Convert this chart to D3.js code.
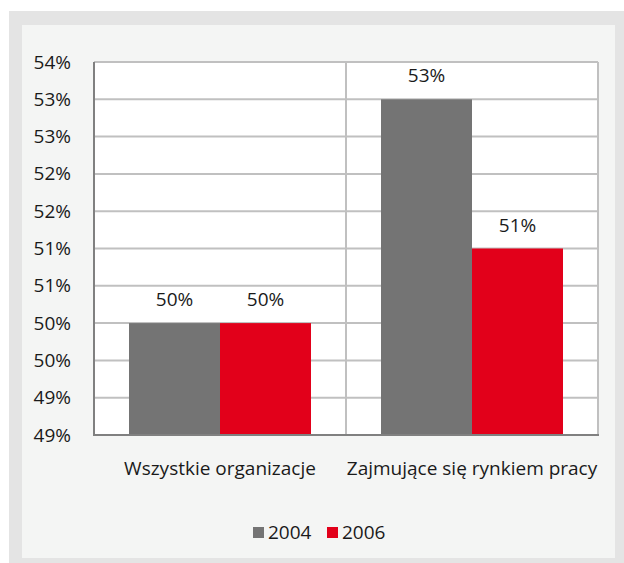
<!DOCTYPE html>
<html>
<head>
<meta charset="utf-8">
<script src="https://cdn.jsdelivr.net/npm/d3@7"></script>
<style>
  html, body { margin: 0; padding: 0; background: #ffffff; overflow: hidden; }
  svg { display: block; }
  text { font-family: "Open Sans", "Noto Sans", sans-serif; fill: #1a1a1a; }
</style>
</head>
<body>
<div id="chart"></div>
<script>
// data
const categories = ['Wszystkie organizacje', 'Zajmujące się rynkiem pracy'];
const seriesNames = ['2004', '2006'];
const values2004 = [50.1, 53.1];
const values2006 = [50.1, 51.1];
const valueLabels2004 = ['50%', '53%'];
const valueLabels2006 = ['50%', '51%'];
const tickValues = [48.6, 49.1, 49.6, 50.1, 50.6, 51.1, 51.6, 52.1, 52.6, 53.1, 53.6];
const tickLabels = ['49%', '49%', '50%', '50%', '51%', '51%', '52%', '52%', '53%', '53%', '54%'];

const colors = ['#747474', '#e2001a'];
const fontSize = '19px';

const w = 624, h = 563;
const svg = d3.select('#chart').append('svg').attr('width', w).attr('height', h);

// frame
svg.append('rect').attr('x', 9).attr('y', 11).attr('width', w - 9).attr('height', h - 11).attr('fill', '#e4e4e4');
svg.append('rect').attr('x', 22).attr('y', 25).attr('width', 593).attr('height', 533).attr('fill', '#f4f5f4');

const margin = { top: 62, left: 94, right: 26, bottom: 128 };
const innerWidth = w - margin.left - margin.right;
const innerHeight = h - margin.top - margin.bottom;

const g = svg.append('g').attr('transform', `translate(${margin.left},${margin.top})`);

g.append('rect').attr('width', innerWidth).attr('height', innerHeight).attr('fill', '#ffffff');

const yScale = d3.scaleLinear().domain([48.6, 53.6]).range([innerHeight, 0]);
const xScale = d3.scaleBand().domain(categories).range([0, innerWidth]);
const xInner = d3.scaleBand().domain(seriesNames).range([35, xScale.bandwidth() - 35]);

// horizontal gridlines
g.selectAll('.hgrid')
  .data(tickValues)
  .enter().append('line')
  .attr('x1', 0).attr('x2', innerWidth)
  .attr('y1', d => yScale(d)).attr('y2', d => yScale(d))
  .attr('stroke', '#c0c0c0').attr('stroke-width', 2);

// vertical gridlines at category boundaries
g.selectAll('.vgrid')
  .data(categories)
  .enter().append('line')
  .attr('x1', d => xScale(d) + xScale.bandwidth()).attr('x2', d => xScale(d) + xScale.bandwidth())
  .attr('y1', 0).attr('y2', innerHeight)
  .attr('stroke', '#c0c0c0').attr('stroke-width', 2);

// bars
const series = [values2004, values2006];
const seriesLabels = [valueLabels2004, valueLabels2006];
seriesNames.forEach((name, si) => {
  const rows = categories.map((c, i) => ({ cat: c, value: series[si][i], label: seriesLabels[si][i] }));
  g.selectAll('.bar' + si)
    .data(rows)
    .enter().append('rect')
    .attr('x', d => xScale(d.cat) + xInner(name))
    .attr('y', d => yScale(d.value))
    .attr('width', xInner.bandwidth())
    .attr('height', d => innerHeight - yScale(d.value))
    .attr('fill', colors[si]);

  g.selectAll('.lbl' + si)
    .data(rows)
    .enter().append('text')
    .attr('x', d => xScale(d.cat) + xInner(name) + xInner.bandwidth() / 2)
    .attr('y', d => yScale(d.value) - 17)
    .attr('text-anchor', 'middle')
    .style('font-size', fontSize)
    .text(d => d.label);
});

// axes
const yAxis = d3.axisLeft(yScale)
  .tickValues(tickValues)
  .tickFormat((d, i) => tickLabels[i])
  .tickSize(0).tickPadding(23);
const yAxisG = g.append('g').call(yAxis);
yAxisG.select('.domain').remove();
yAxisG.selectAll('text').style('font-size', fontSize).attr('fill', '#1a1a1a');

const xAxis = d3.axisBottom(xScale).tickSize(0).tickPadding(27);
const xAxisG = g.append('g').attr('transform', `translate(0,${innerHeight})`).call(xAxis);
xAxisG.select('.domain').remove();
xAxisG.selectAll('text').style('font-size', fontSize).attr('fill', '#1a1a1a');

g.append('line').attr('x1', 0).attr('x2', 0).attr('y1', 0).attr('y2', innerHeight + 1)
  .attr('stroke', '#808080').attr('stroke-width', 2);
g.append('line').attr('x1', 0).attr('x2', innerWidth + 1).attr('y1', innerHeight).attr('y2', innerHeight)
  .attr('stroke', '#808080').attr('stroke-width', 2);

// legend
const legendX = [253, 327];
const legend = svg.append('g');
seriesNames.forEach((name, i) => {
  legend.append('rect').attr('x', legendX[i]).attr('y', 527).attr('width', 11).attr('height', 11).attr('fill', colors[i]);
  legend.append('text').attr('x', legendX[i] + 15).attr('y', 539).style('font-size', fontSize).text(name);
});
</script>
</body>
</html>
